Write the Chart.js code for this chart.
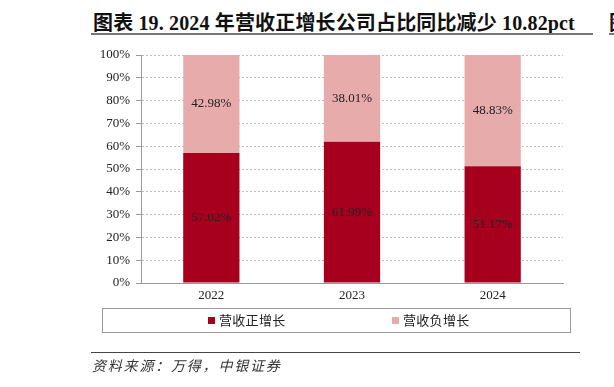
<!DOCTYPE html>
<html>
<head>
<meta charset="utf-8">
<script src="https://cdn.jsdelivr.net/npm/chart.js@4.4.1/dist/chart.umd.min.js"></script>
<style>
  html, body { margin: 0; padding: 0; background: #fff; }
  body { width: 614px; height: 387px; position: relative; overflow: hidden; }
  #title {
    position: absolute; left: 93px; top: 7px;
    font: bold 20px "Liberation Serif", "Noto Sans CJK SC", serif;
    letter-spacing: 0.15px;
    color: #111; white-space: nowrap;
  }
  #titleLine { position: absolute; left: 91px; top: 33px; width: 502px; height: 2px; background: #777; }
  #nextFig { position: absolute; left: 609px; top: 7px; font: bold 20px "Noto Sans CJK SC"; color: #111; }
  #nextLine { position: absolute; left: 609px; top: 33px; width: 10px; height: 2px; background: #777; }
  #srcLine { position: absolute; left: 91px; top: 352px; width: 489px; height: 1px; background: #444; }
  #source {
    position: absolute; left: 92px; top: 355px;
    font: italic 14px "Noto Sans CJK SC", sans-serif; letter-spacing: 1.8px;
    color: #333; white-space: nowrap;
  }
  #chart { position: absolute; left: 0; top: 0; }
</style>
</head>
<body>
<div id="title">图表 19. 2024 年营收正增长公司占比同比减少 10.82pct</div>
<div id="titleLine"></div>
<div id="nextFig">图</div>
<div id="nextLine"></div>
<canvas id="chart" width="614" height="387"></canvas>
<div id="srcLine"></div>
<div id="source">资料来源：万得，中银证券</div>

<script>
// ---------------------------
// Data
// ---------------------------
const years = ["2022", "2023", "2024"];
const positiveShare = [57.02, 61.99, 51.17];
const negativeShare = [42.98, 38.01, 48.83];
const seriesNames = ["营收正增长", "营收负增长"];
const seriesColors = ["#A6001E", "#E8ABAB"];

const serif = "'Liberation Serif', 'Times New Roman', serif";

// ---------------------------
// Labels in the middle of each segment
// ---------------------------
const segmentLabels = {
    id: "segmentLabels",
    afterDatasetsDraw(chart) {
        const ctx = chart.ctx;
        ctx.save();
        ctx.font = `13px ${serif}`;
        ctx.fillStyle = "#222";
        ctx.textAlign = "center";
        ctx.textBaseline = "middle";
        chart.data.datasets.forEach((ds, di) => {
            chart.getDatasetMeta(di).data.forEach((bar, i) => {
                const p = bar.getProps(["x", "y", "base"], true);
                ctx.fillText(ds.data[i].toFixed(2) + "%", p.x, (p.y + p.base) / 2);
            });
        });
        ctx.restore();
    }
};

// ---------------------------
// Boxed legend under the axis
// ---------------------------
const boxedLegend = {
    id: "boxedLegend",
    afterDraw(chart) {
        const ctx = chart.ctx;
        ctx.save();
        ctx.strokeStyle = "#999";
        ctx.lineWidth = 1;
        ctx.strokeRect(102.5, 308.5, 468, 24);
        ctx.font = "13px 'Noto Sans CJK SC', sans-serif";
        ctx.textBaseline = "middle";
        const starts = [208, 392];
        chart.data.datasets.forEach((ds, i) => {
            ctx.fillStyle = ds.backgroundColor;
            ctx.fillRect(starts[i], 317, 7, 7);
            ctx.fillStyle = "#222";
            let x = starts[i] + 11;
            for (const ch of ds.label) {
                ctx.fillText(ch, x, 320.5);
                x += 13.3;
            }
        });
        ctx.restore();
    }
};

new Chart(document.getElementById("chart"), {
    type: "bar",
    data: {
        labels: years,
        datasets: [
            { label: seriesNames[0], data: positiveShare, backgroundColor: seriesColors[0] },
            { label: seriesNames[1], data: negativeShare, backgroundColor: seriesColors[1] }
        ]
    },
    options: {
        responsive: false,
        animation: false,
        devicePixelRatio: 1,
        categoryPercentage: 0.8,
        barPercentage: 0.5,
        layout: { padding: { left: 0, right: 51, top: 55, bottom: 78 } },
        plugins: {
            legend: { display: false },
            tooltip: { enabled: false }
        },
        scales: {
            x: {
                stacked: true,
                grid: { display: false, drawTicks: false },
                border: { display: true, color: "#999" },
                ticks: { color: "#222", font: { family: serif, size: 13 }, padding: 5 },
                afterFit: s => { s.height = 26; }
            },
            y: {
                stacked: true,
                min: 0,
                max: 100,
                ticks: {
                    stepSize: 10,
                    color: "#222",
                    font: { family: serif, size: 13 },
                    padding: 6,
                    callback: v => v + "%"
                },
                grid: { color: "#bdbdbd", tickColor: "#999", tickLength: 5, lineWidth: 1 },
                border: { display: true, color: "#999", dash: [2, 2] },
                afterFit: s => { s.width = 141; }
            }
        }
    },
    plugins: [segmentLabels, boxedLegend]
});
</script>
</body>
</html>
